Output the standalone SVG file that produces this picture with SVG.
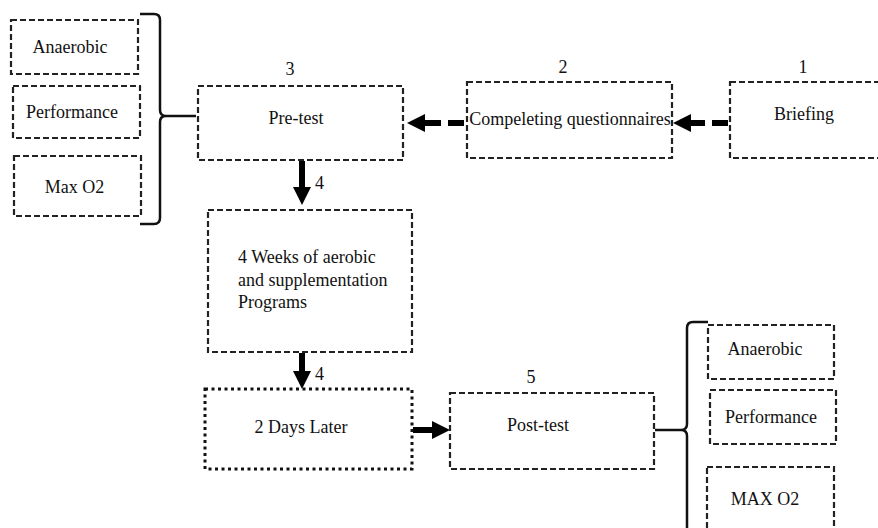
<svg xmlns="http://www.w3.org/2000/svg" width="878" height="528" viewBox="0 0 878 528">
<style>
.box{fill:#fff;stroke:#222;stroke-width:2.2;stroke-dasharray:6 3}
.dot{fill:#fff;stroke:#111;stroke-width:3;stroke-dasharray:3 3.5}
text{font-family:'Liberation Serif','DejaVu Serif','Times New Roman',Times,serif;font-size:18px;fill:#111}
.m{text-anchor:middle}
.shaft{stroke:#000;stroke-width:6;fill:none}
.dash{stroke-dasharray:16 7}
.br{fill:none;stroke:#111;stroke-width:2.5}
</style>
<defs>
<marker id="ah" markerUnits="userSpaceOnUse" markerWidth="20" markerHeight="20" refX="0" refY="9" orient="auto" viewBox="0 0 20 18">
<path d="M0,0 L18,9 L0,18 Z" fill="#000"/>
</marker>
</defs>
<rect width="878" height="528" fill="#fff"/>

<g id="connectors">
<line class="shaft dash" x1="464" y1="123" x2="425" y2="123" marker-end="url(#ah)"/>
<line class="shaft dash" x1="728" y1="123" x2="691" y2="123" marker-end="url(#ah)"/>
<line class="shaft" x1="302" y1="161" x2="302" y2="187" marker-end="url(#ah)"/>
<line class="shaft" x1="302" y1="353" x2="302" y2="371" marker-end="url(#ah)"/>
<line class="shaft" x1="413" y1="430" x2="432" y2="430" marker-end="url(#ah)"/>
<path class="br" d="M140,14 L154,14 Q160,14 160,20 L160,110 Q160,116 166,116 Q160,116 160,122 L160,218 Q160,224 154,224 L140,224"/>
<line class="br" x1="166" y1="116" x2="196" y2="116"/>
<path class="br" d="M708,322 L693,322 Q687,322 687,328 L687,424 Q687,430 681,430 Q687,430 687,436 L687,540"/>
<line class="br" x1="681" y1="430" x2="655" y2="430"/>
</g>

<g id="left-anaerobic"><rect class="box" x="11" y="20" width="127" height="54"/><text class="m" x="70" y="53">Anaerobic</text></g>
<g id="left-performance"><rect class="box" x="13" y="86" width="127" height="52"/><text class="m" x="72" y="118">Performance</text></g>
<g id="left-maxo2"><rect class="box" x="14" y="156" width="127" height="60"/><text class="m" x="74.5" y="193">Max O2</text></g>

<g id="pretest"><text class="m" x="290" y="75">3</text><rect class="box" x="198" y="86" width="205" height="74"/><text class="m" x="296" y="124">Pre-test</text></g>
<g id="questionnaires"><text class="m" x="563" y="73">2</text><rect class="box" x="467" y="82" width="205" height="76"/><text class="m" x="570" y="125">Compeleting questionnaires</text></g>
<g id="briefing"><text class="m" x="803" y="73">1</text><rect class="box" x="730" y="82" width="160" height="76"/><text class="m" x="804" y="120">Briefing</text></g>

<g id="weeks"><text x="315" y="189">4</text><rect class="box" x="208" y="210" width="204" height="142"/><text x="238" y="263">4 Weeks of aerobic</text><text x="238" y="286">and supplementation</text><text x="238" y="308">Programs</text></g>
<g id="days"><text x="315" y="380">4</text><rect class="dot" x="205" y="389" width="207" height="80"/><text class="m" x="301" y="433">2 Days Later</text></g>
<g id="posttest"><text class="m" x="531" y="383">5</text><rect class="box" x="450" y="393" width="204" height="76"/><text class="m" x="538" y="431">Post-test</text></g>

<g id="right-anaerobic"><rect class="box" x="708" y="325" width="126" height="54"/><text class="m" x="765" y="355">Anaerobic</text></g>
<g id="right-performance"><rect class="box" x="710" y="390" width="126" height="54"/><text class="m" x="771" y="423">Performance</text></g>
<g id="right-maxo2"><rect class="box" x="707" y="467" width="127" height="70"/><text class="m" x="765" y="505">MAX O2</text></g>
</svg>
